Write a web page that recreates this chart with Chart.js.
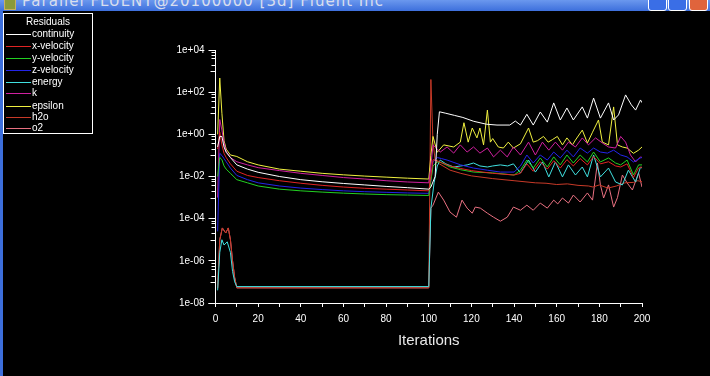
<!DOCTYPE html>
<html>
<head>
<meta charset="utf-8">
<script src="https://cdn.jsdelivr.net/npm/chart.js@4.4.0/dist/chart.umd.min.js"></script>
<style>
  body { margin: 0; background: #000; width: 710px; height: 376px; overflow: hidden; position: relative; font-family: "Liberation Sans", Arial, sans-serif; }
  #titlebar { position: absolute; left: 0; top: 0; width: 710px; height: 11px; overflow: hidden;
    background: linear-gradient(#6b98ee, #3d6fdc); }
  #titlebar .icon { position: absolute; left: 4px; top: -3px; width: 10px; height: 11px; background: #8a9a3a; border: 1px solid #c8b060; }
  #titlebar .txt { position: absolute; left: 22px; top: -8px; color: #d8deee; font: 15px "DejaVu Sans", sans-serif; letter-spacing: 1px; white-space: nowrap; }
  #titlebar .btn { position: absolute; top: -4px; width: 17px; height: 13px; border: 1px solid #fff; border-radius: 3px; background: #3a6ee6; }
  #leftframe { position: absolute; left: 0; top: 11px; width: 3px; height: 365px; background: #3d6fdc; }
  #legend { position: absolute; left: 3px; top: 13px; width: 88px; height: 119px; border: 1px solid #fff; color: #fff; font-size: 10px; }
  #legend .ttl { position: absolute; left: 0; width: 88px; top: 2px; text-align: center; }
  #legend .row { position: absolute; left: 0; width: 88px; height: 12px; line-height: 12px; white-space: nowrap; }
  #legend .sw { position: absolute; display: block; left: 2px; top: 6px; width: 25px; height: 1px; }
  #legend .lbl { position: absolute; left: 28px; top: 0; }
  canvas { position: absolute; left: 0; top: 0; }
</style>
</head>
<body>
<canvas id="chart" width="710" height="376"></canvas>
<div id="titlebar">
  <div class="icon"></div>
  <div class="txt">Parallel FLUENT@20100000 [3d] Fluent Inc</div>
  <div class="btn" style="left:648px"></div>
  <div class="btn" style="left:668px"></div>
  <div class="btn" style="left:689px;background:#e0643c"></div>
</div>
<div id="leftframe"></div>
<div id="legend"><div class="ttl">Residuals</div></div>
<script>
// residual histories, [iteration, log10(residual)]
const continuity = [[1,-0.6],[2,-0.1],[3,-0.1],[4,-0.6],[5,-0.85],[7,-1.1],[10,-1.45],[15,-1.65],[20,-1.8],[30,-2.0],[40,-2.15],[50,-2.25],[60,-2.33],[70,-2.4],[80,-2.47],[90,-2.53],[100,-2.6],[101,-2.5],[103,-2.0],[104,0.0],[105,1.07],[108,1.0],[112,0.9],[116,0.8],[121,0.62],[127,0.48],[132,0.44],[138,0.44],[140.6,0.63],[143,0.44],[146,0.95],[149,0.44],[152.3,1.06],[155.6,0.58],[158.6,1.49],[161.7,0.68],[164.8,1.25],[167.8,0.68],[172,1.3],[174.4,0.77],[177.3,1.72],[180.5,0.77],[184.3,1.49],[186.7,0.68],[189,0.92],[192.3,1.87],[195,1.4],[197,1.15],[199.3,1.63],[200,1.5]]
const xVelocity = [[1,-0.7],[2,0.1],[3,-0.5],[4,-0.9],[5,-1.1],[7,-1.4],[10,-1.75],[15,-1.95],[20,-2.05],[30,-2.2],[40,-2.32],[50,-2.42],[60,-2.5],[70,-2.56],[80,-2.6],[90,-2.64],[100,-2.68],[101,-2.0],[102,-1.2],[104,-1.25],[106,-1.35],[110,-1.5],[115,-1.62],[120,-1.72],[130,-1.85],[140,-1.93],[143,-1.85],[146,-1.4],[149,-1.75],[152.3,-1.3],[155.6,-1.65],[158.6,-1.25],[161.7,-1.6],[164.8,-1.2],[167.8,-1.5],[171,-1.15],[174.4,-1.45],[177.3,-1.05],[180.5,-1.4],[184.3,-1.3],[187.6,-1.5],[190,-1.55],[193,-1.4],[196,-2.05],[198.4,-1.6],[200,-1.55]]
const yVelocity = [[1,-2.0],[2,-1.1],[3,-1.2],[4,-1.5],[5,-1.65],[7,-1.85],[10,-2.15],[15,-2.3],[20,-2.45],[30,-2.6],[40,-2.68],[50,-2.74],[60,-2.79],[70,-2.83],[80,-2.86],[90,-2.88],[100,-2.9],[101,-2.2],[102,-1.5],[104,-1.3],[106,-1.35],[110,-1.55],[115,-1.68],[121,-1.79],[130,-1.83],[140,-1.93],[143,-1.7],[146,-1.22],[149,-1.6],[152.3,-1.12],[155.6,-1.55],[158.6,-1.07],[161.7,-1.45],[164.8,-0.98],[167.8,-1.36],[171,-0.98],[174.4,-1.31],[177.3,-0.84],[180.5,-1.31],[184.3,-1.12],[187.6,-1.36],[190,-1.45],[193,-1.22],[196,-1.93],[198.4,-1.45],[200,-1.45]]
const zVelocity = [[1,-4.6],[2,-0.9],[3,-1.0],[4,-1.15],[5,-1.3],[7,-1.6],[10,-1.95],[15,-2.15],[20,-2.3],[30,-2.45],[40,-2.55],[50,-2.62],[60,-2.68],[70,-2.72],[80,-2.75],[90,-2.78],[100,-2.8],[101,-2.2],[102,-1.3],[104,-1.1],[106,-1.15],[108.6,-1.22],[115,-1.45],[121,-1.6],[127.5,-1.7],[133.6,-1.79],[140,-1.79],[143,-1.5],[146,-0.98],[149,-1.36],[152.3,-0.98],[155.6,-1.22],[158.6,-0.84],[161.7,-1.12],[164.8,-0.75],[167.8,-1.07],[171,-0.65],[174.4,-0.89],[177.3,-0.65],[180.5,-0.84],[183.8,-0.89],[186.7,-0.75],[190,-0.98],[193,-1.07],[196,-1.31],[199.3,-1.12],[200,-1.1]]
const energy = [[1,-7.4],[2,-5.6],[3,-5.0],[4,-5.25],[5.5,-5.1],[7,-5.6],[8,-6.5],[9,-7.0],[10,-7.22],[100,-7.22],[101,-3.5],[102.5,-2.3],[104,-1.5],[105.4,-1.22],[108,-1.4],[111.7,-1.55],[115,-1.5],[118,-1.45],[121,-1.36],[124,-1.5],[127.5,-1.55],[130,-1.5],[133.6,-1.45],[137,-1.5],[139.7,-1.4],[143,-1.83],[146.8,-1.22],[150,-1.79],[153.3,-1.31],[156.3,-2.02],[159.4,-1.31],[162.7,-2.02],[165.5,-1.45],[168.8,-1.93],[172,-1.55],[174.4,-2.02],[177.3,-0.98],[180.5,-2.02],[184.3,-1.6],[187.6,-2.26],[190.8,-2.4],[193.6,-1.7],[197,-2.26],[199.3,-1.55],[200,-1.6]]
const kTurb = [[1,-3.0],[2,0.7],[3,0.2],[4,-0.4],[5,-0.8],[7,-1.1],[10,-1.3],[15,-1.45],[20,-1.58],[30,-1.72],[40,-1.85],[50,-1.95],[60,-2.05],[70,-2.12],[80,-2.2],[90,-2.26],[100,-2.3],[101,-1.5],[102,-0.5],[105.4,-0.84],[108.6,-0.6],[111.7,-0.89],[114.8,-0.5],[118,-0.84],[121,-0.6],[124,-0.89],[127.5,-0.65],[130.4,-1.07],[133.6,-0.75],[136.8,-1.07],[139.7,-0.6],[143,-0.98],[146.8,-0.37],[150,-0.98],[153.3,-0.37],[156.3,-0.75],[159.4,-0.37],[162.7,-0.75],[165.5,-0.37],[168.8,-0.6],[172,-0.17],[174.9,-0.5],[178.2,-0.17],[181.4,-0.41],[184.3,-0.6],[187.6,-0.65],[190,-0.1],[192.3,-0.37],[194.6,-0.98],[197,-1.31],[199.3,-1.07],[200,-1.1]]
const epsilon = [[1,0.0],[2,2.67],[3,1.0],[4,-0.3],[5,-0.7],[7,-0.98],[10,-1.05],[15,-1.3],[20,-1.45],[30,-1.65],[40,-1.75],[50,-1.85],[60,-1.92],[70,-1.98],[80,-2.03],[90,-2.08],[100,-2.12],[101,-1.0],[102,-0.1],[104,-0.85],[107,-0.5],[111.7,-0.6],[114.8,-0.37],[116.5,0.55],[118.5,-0.37],[120.4,0.3],[122.6,-0.17],[124,0.3],[125.7,-0.5],[127.5,1.15],[128.9,-0.37],[130,-0.2],[132.6,-0.6],[135,-0.65],[137.3,-0.37],[139.7,-0.65],[143,-0.45],[146.8,0.3],[149,-0.37],[151,-0.3],[153.8,-0.1],[156,-0.37],[158,-0.25],[160.3,-0.1],[162.7,-0.5],[164.8,-0.17],[167.4,-0.5],[168.8,-0.27],[172,0.2],[174.4,-0.41],[176.8,0.1],[179.6,0.68],[181.4,-0.37],[184.3,-0.5],[186.7,1.3],[188.5,-0.5],[190.8,-0.6],[193,-0.65],[196,-0.9],[198.4,-0.75],[200,-0.6]]
const h2o = [[1,-7.3],[2,-5.0],[3.2,-4.44],[4.8,-4.68],[6,-4.44],[7,-5.0],[8,-6.0],[9,-6.8],[10,-7.28],[100,-7.28],[101,2.6],[102,-0.4],[103,-1.2],[105,-1.4],[110,-1.7],[115,-1.85],[120,-1.97],[130,-2.1],[140,-2.2],[150,-2.3],[155,-2.32],[160,-2.38],[165,-2.35],[170,-2.42],[175,-2.45],[177,-2.5],[180,-2.4],[184,-2.55],[188,-2.45],[192,-2.3],[196,-2.28],[198,-2.2],[200,-2.25]]
const o2 = [[1,-7.3],[2,-5.0],[3.2,-4.44],[4.8,-4.68],[6,-4.44],[7,-5.0],[8,-6.0],[9,-6.8],[10,-7.28],[100,-7.28],[101,-3.5],[102,-3.36],[104.5,-2.74],[107,-3.12],[110,-3.69],[113,-3.93],[115.6,-3.12],[118,-3.5],[120.4,-3.74],[121.8,-3.45],[124.2,-3.5],[127.5,-3.74],[130.4,-3.93],[133.6,-4.12],[136.8,-3.93],[139.7,-3.45],[143,-3.6],[146,-3.36],[149,-3.6],[152.3,-3.26],[155.6,-3.5],[158.6,-3.12],[160.5,-3.3],[162.7,-3.02],[165.5,-3.26],[167.8,-2.88],[171,-3.21],[174.4,-2.78],[176.8,-3.12],[179.1,-1.36],[180.5,-2.4],[182,-3.02],[184.3,-2.4],[186.7,-3.45],[188.5,-3.0],[190.8,-1.93],[193,-2.3],[195.5,-2.64],[198.4,-1.83],[200,-2.5]]

const seriesNames = ["continuity", "x-velocity", "y-velocity", "z-velocity", "energy", "k", "epsilon", "h2o", "o2"]
const seriesData = [continuity, xVelocity, yVelocity, zVelocity, energy, kTurb, epsilon, h2o, o2]
const seriesColors = ["#ffffff", "#e02424", "#22d022", "#2424e8", "#40e0e0", "#d020a0", "#f0f040", "#c83a28", "#e87080"]

const yTickValues = [1e-8, 1e-6, 1e-4, 1e-2, 1, 1e2, 1e4]
const xTickStep = 10

// legend box, built from the same arrays
const legendEl = document.getElementById("legend")
const rowCenters = [34, 46, 58, 70, 82, 93, 106, 117, 128]
seriesNames.forEach((name, i) => {
  const row = document.createElement("div")
  row.className = "row"
  row.style.top = (rowCenters[i] - 20) + "px"
  row.innerHTML = '<span class="sw" style="background-color:' + seriesColors[i] + '"></span><span class="lbl">' + name + '</span>'
  legendEl.appendChild(row)
})

function expLabel(v) {
  const e = Math.round(Math.log10(v))
  const sign = e < 0 ? "-" : "+"
  const mag = String(Math.abs(e)).padStart(2, "0")
  return "1e" + sign + mag
}

// short minor ticks on the log axis, placed through the scale
const minorTicks = {
  id: "minorTicks",
  afterDraw(chart) {
    const ctx = chart.ctx
    const y = chart.scales.y
    const left = chart.chartArea.left
    ctx.save()
    ctx.strokeStyle = "#ffffff"
    ctx.lineWidth = 1
    for (let e = -9; e < 4; e += 2) {
      for (const m of [1, 2, 4, 6, 8]) {
        const v = m * Math.pow(10, e)
        if (v < 1e-8) continue
        const py = Math.round(y.getPixelForValue(v)) + 0.5
        ctx.beginPath()
        ctx.moveTo(left - (m === 1 ? 5 : 4), py)
        ctx.lineTo(left, py)
        ctx.stroke()
      }
    }
    // x axis line runs a little past the y axis
    const py = Math.round(chart.chartArea.bottom) + 0.5
    ctx.beginPath()
    ctx.moveTo(left - 7, py)
    ctx.lineTo(left, py)
    ctx.stroke()
    ctx.restore()
  }
}

new Chart(document.getElementById("chart"), {
  type: "line",
  data: {
    datasets: seriesData.map((series, i) => ({
      label: seriesNames[i],
      data: series.map(p => ({ x: p[0], y: Math.pow(10, p[1]) })),
      borderColor: seriesColors[i],
      borderWidth: 1,
      pointRadius: 0,
      tension: 0,
      fill: false,
    }))
  },
  options: {
    responsive: false,
    animation: false,
    layout: { padding: { top: 50, right: 68, left: 0, bottom: 0 } },
    plugins: {
      legend: { display: false },
      tooltip: { enabled: false },
    },
    scales: {
      x: {
        type: "linear",
        min: 0,
        max: 200,
        afterFit(scale) { scale.height = 73 },
        grid: { display: true, drawOnChartArea: false, color: "#ffffff", tickLength: 4 },
        border: { color: "#ffffff" },
        ticks: {
          stepSize: xTickStep,
          color: "#ffffff",
          padding: 6,
          maxRotation: 0,
          autoSkip: false,
          font: { family: "Liberation Sans", size: 10 },
          callback: v => (v % 20 === 0 ? String(v) : ""),
        },
        title: {
          display: true,
          text: "Iterations",
          color: "#e8e8e8",
          font: { family: "Liberation Sans", size: 15 },
          padding: { top: 0, bottom: 26 },
        },
      },
      y: {
        type: "logarithmic",
        min: 1e-8,
        max: 1e4,
        afterFit(scale) { scale.width = 215.5 },
        afterBuildTicks(scale) { scale.ticks = yTickValues.map(v => ({ value: v })) },
        grid: { display: true, drawOnChartArea: false, color: "#ffffff", tickLength: 7 },
        border: { color: "#ffffff" },
        ticks: {
          color: "#ffffff",
          padding: 4,
          autoSkip: false,
          font: { family: "Liberation Sans", size: 10 },
          callback: v => expLabel(v),
        },
      },
    },
  },
  plugins: [minorTicks],
})
</script>
</body>
</html>
